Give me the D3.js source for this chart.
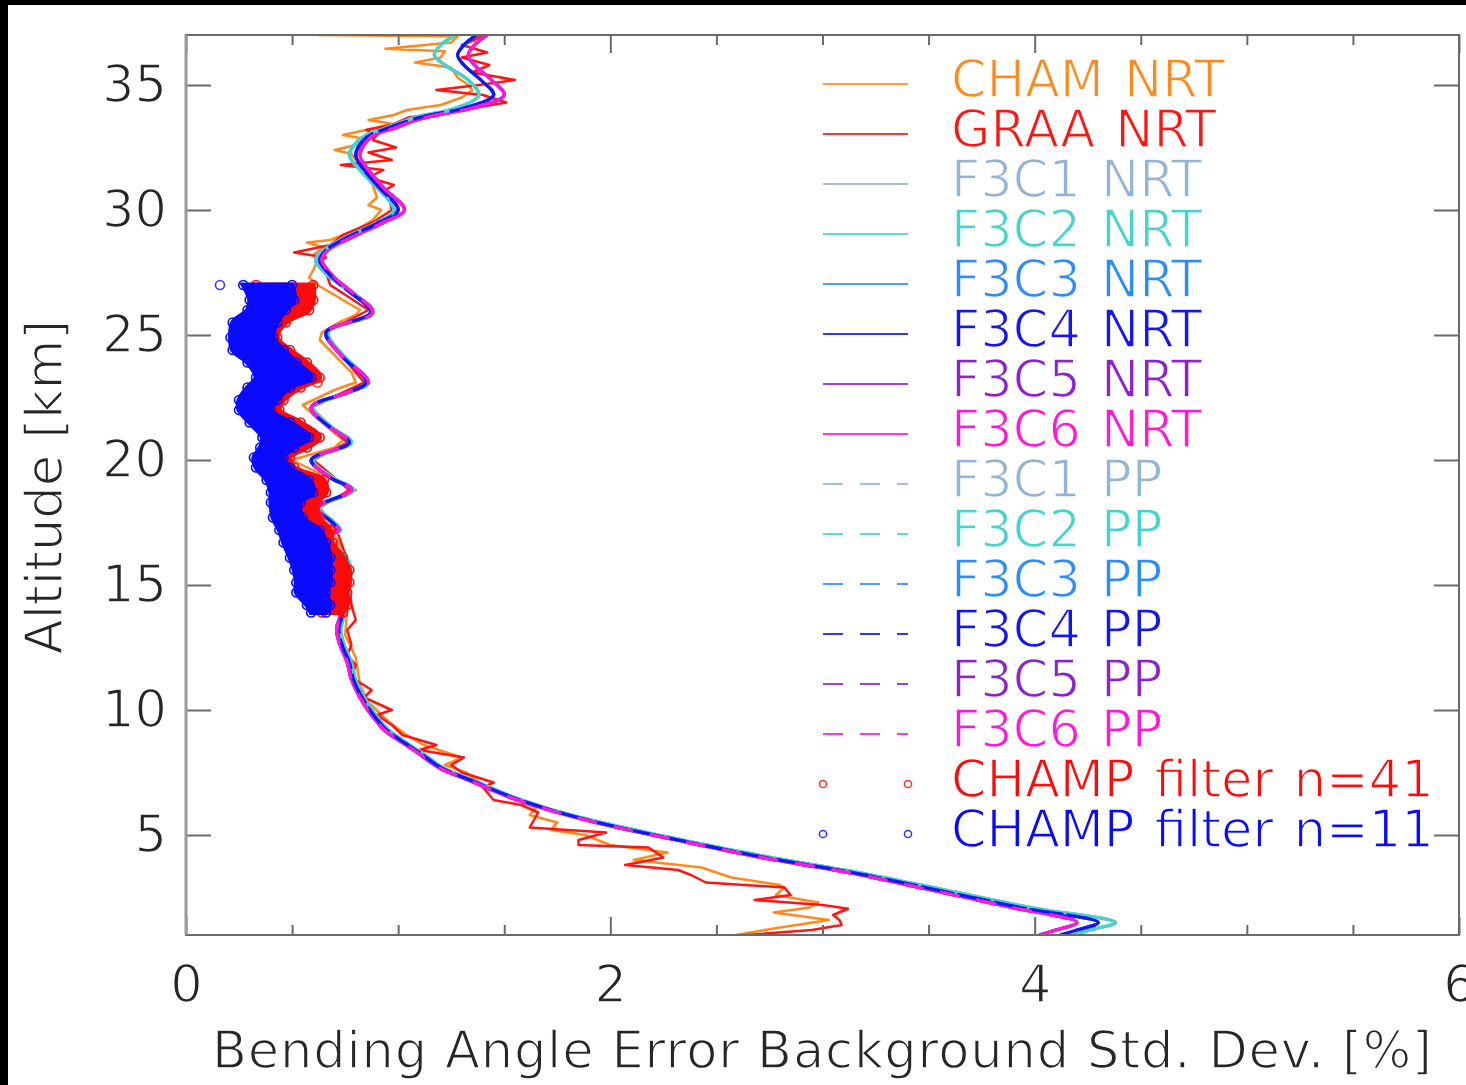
<!DOCTYPE html>
<html><head><meta charset="utf-8">
<script src="https://cdn.jsdelivr.net/npm/d3@7"></script>
<style>
html,body{margin:0;padding:0;background:#fff;}
svg{display:block;}
text{font-family:"DejaVu Sans",sans-serif;stroke:#fff;stroke-width:1.5px;}
</style></head><body>
<svg id="chart" width="1466" height="1085"></svg>
<script>
// ---------------- DATA ----------------
const xMajorTicks = [0, 2, 4, 6];
const xMinorTicks = [0.5, 1, 1.5, 2.5, 3, 3.5, 4.5, 5, 5.5];
const xTickLabels = ["0", "2", "4", "6"];
const yTicks = [5, 10, 15, 20, 25, 30, 35];
const yTickLabels = ["5", "10", "15", "20", "25", "30", "35"];
const xTitle = "Bending Angle Error Background Std. Dev. [%]";
const yTitle = "Altitude [km]";

// CHAM NRT (orange)
const altCHAM = [37.0,36.95,36.7,36.45,36.35,36.1,35.9,35.7,35.3,35.0,34.8,34.5,34.2,34.0,33.8,33.6,33.45,33.3,33.0,32.85,32.6,32.4,32.25,32.0,31.5,31.0,30.5,30.2,30.0,29.6,29.2,28.8,28.7,28.5,28.2,28.0,27.6,27.3,27.0,26.5,26.0,25.8,25.5,25.1,24.8,24.2,23.5,23.1,22.8,22.2,21.5,20.8,20.5,20.0,19.5,18.8,18.3,18.0,17.5,17.0,16.0,15.0,14.0,13.0,12.1,11.0,10.3,9.5,9.0,8.6,8.1,7.8,7.5,7.0,6.5,6.1,5.8,5.5,5.2,5.0,4.6,4.3,4.0,3.7,3.3,3.0,2.9,2.6,2.3,2.1,1.9,1.6,1.3,1.0];
const valCHAM = [0.62,1.28,1.25,0.94,1.22,1.20,1.08,1.25,1.28,1.33,1.35,1.30,1.20,1.04,0.98,0.86,0.97,0.90,0.74,0.84,0.80,0.70,0.78,0.80,0.84,0.88,0.90,0.86,0.92,0.88,0.80,0.68,0.57,0.65,0.60,0.62,0.60,0.58,0.62,0.72,0.82,0.80,0.72,0.64,0.63,0.70,0.78,0.80,0.70,0.55,0.64,0.74,0.70,0.50,0.62,0.80,0.66,0.62,0.68,0.70,0.76,0.77,0.76,0.75,0.80,0.82,0.86,0.96,1.04,1.12,1.30,1.22,1.32,1.40,1.52,1.65,1.62,1.75,1.72,1.88,2.00,2.27,2.11,2.43,2.57,2.80,2.82,2.78,2.98,2.94,2.77,3.03,2.80,2.59];

// GRAA NRT (red)
const altGRAA = [37.0,36.8,36.6,36.3,36.1,35.8,35.5,35.2,35.0,34.8,34.6,34.3,34.0,33.7,33.4,33.2,33.0,32.8,32.5,32.3,32.0,31.8,31.6,31.3,31.0,30.7,30.4,30.0,29.5,29.0,28.6,28.3,28.1,27.9,27.5,27.0,26.0,25.1,24.2,23.1,22.1,20.7,20.0,18.8,18.1,17.2,16.0,15.0,14.2,13.6,13.2,12.6,12.2,11.8,11.3,10.8,10.5,10.0,9.8,9.4,9.0,8.6,8.4,8.1,7.8,7.5,7.1,6.9,6.4,6.2,5.9,5.3,5.1,4.8,4.6,4.5,4.1,3.8,3.6,3.4,3.1,2.9,2.6,2.4,2.2,2.05,1.8,1.6,1.4,1.2,1.0];
const valGRAA = [1.40,1.36,1.30,1.42,1.30,1.43,1.35,1.55,1.38,1.18,1.40,1.51,1.30,1.05,0.97,0.85,0.90,0.88,0.99,0.86,0.97,0.73,0.93,0.86,0.98,0.92,0.96,0.97,0.88,0.74,0.68,0.51,0.66,0.62,0.66,0.68,0.86,0.66,0.73,0.84,0.59,0.76,0.60,0.77,0.63,0.71,0.76,0.77,0.78,0.80,0.76,0.78,0.76,0.80,0.78,0.875,0.84,0.97,0.90,0.97,1.02,1.18,1.10,1.31,1.25,1.30,1.45,1.40,1.45,1.58,1.66,1.62,1.98,1.85,1.85,2.18,2.25,2.07,2.32,2.38,2.45,2.82,2.85,2.68,3.00,3.12,3.05,3.08,3.09,2.95,2.64];

// FORMOSAT-3 / COSMIC profiles (read as three visually distinct groups)
const altF3C = [37.0,36.6,36.2,35.8,35.2,34.6,34.1,33.7,33.3,32.9,32.2,31.6,30.9,30.0,29.5,28.9,28.4,28.0,27.3,26.8,25.9,25.1,24.2,23.1,22.7,22.1,21.3,20.7,20.0,19.3,18.8,18.1,17.5,17.2,16.9,15.9,14.8,13.9,13.2,12.5,11.9,11.2,10.5,9.9,9.2,8.8,8.3,7.7,7.2,6.5,6.0,5.5,4.8,4.1,3.5,2.8,2.1,1.5,1.2,1.0];
const valF3CLight = [1.27,1.20,1.17,1.22,1.33,1.38,1.28,1.08,0.95,0.83,0.77,0.82,0.90,0.98,0.90,0.75,0.65,0.61,0.68,0.76,0.88,0.67,0.74,0.86,0.77,0.60,0.69,0.78,0.60,0.69,0.79,0.63,0.70,0.73,0.68,0.77,0.77,0.75,0.73,0.75,0.78,0.80,0.84,0.885,0.955,1.02,1.11,1.21,1.35,1.55,1.73,1.96,2.34,2.76,3.17,3.58,3.98,4.38,4.26,4.18];
const valF3CBlue  = [1.37,1.31,1.28,1.31,1.39,1.45,1.32,1.10,0.96,0.85,0.80,0.84,0.91,1.00,0.91,0.76,0.66,0.63,0.69,0.76,0.87,0.66,0.73,0.85,0.76,0.59,0.68,0.77,0.59,0.68,0.78,0.62,0.69,0.72,0.67,0.76,0.76,0.74,0.72,0.74,0.77,0.79,0.83,0.875,0.945,1.01,1.10,1.20,1.34,1.54,1.72,1.94,2.32,2.73,3.14,3.54,3.93,4.30,4.20,4.12];
const valF3CPink  = [1.42,1.36,1.33,1.36,1.44,1.50,1.36,1.13,0.99,0.87,0.82,0.86,0.93,1.03,0.93,0.78,0.67,0.64,0.70,0.77,0.88,0.66,0.73,0.86,0.76,0.59,0.68,0.77,0.59,0.68,0.78,0.62,0.69,0.72,0.67,0.75,0.75,0.73,0.71,0.73,0.76,0.78,0.82,0.865,0.935,1.00,1.09,1.19,1.33,1.53,1.71,1.93,2.31,2.71,3.12,3.51,3.89,4.20,4.10,4.02];

// CHAMP filter scatter clouds: extent of the circle clouds per altitude
const altScatter = [27.0,26.4,26.0,25.5,24.9,24.4,23.9,23.3,22.9,22.4,22.0,21.5,20.9,20.5,20.1,19.7,19.2,18.7,18.3,17.7,17.2,16.7,16.1,15.6,15.1,14.7,14.2,13.9];
const blueLo = [0.27,0.30,0.29,0.22,0.21,0.22,0.29,0.33,0.29,0.25,0.25,0.30,0.36,0.35,0.32,0.33,0.38,0.40,0.40,0.41,0.44,0.46,0.49,0.51,0.52,0.52,0.57,0.59];
const blueHi = [0.50,0.51,0.47,0.43,0.41,0.46,0.52,0.59,0.49,0.43,0.40,0.49,0.58,0.51,0.46,0.49,0.58,0.60,0.54,0.55,0.63,0.66,0.68,0.68,0.68,0.66,0.68,0.66];
const redLo  = [0.33,0.36,0.35,0.30,0.28,0.30,0.36,0.42,0.36,0.32,0.31,0.37,0.44,0.42,0.38,0.40,0.46,0.48,0.46,0.47,0.52,0.55,0.58,0.60,0.60,0.60,0.63,0.64];
const redHi  = [0.60,0.60,0.58,0.47,0.43,0.49,0.57,0.63,0.54,0.46,0.44,0.54,0.63,0.57,0.49,0.51,0.65,0.66,0.62,0.63,0.68,0.69,0.74,0.77,0.77,0.76,0.76,0.74];
const blueOutAlt = [27.0];
const blueOutVal = [0.16];
const redOutAlt = [23.1];
const redOutVal = [0.62];

// series definitions
const seriesNames  = ["CHAM NRT","GRAA NRT","F3C1 NRT","F3C2 NRT","F3C3 NRT","F3C4 NRT","F3C5 NRT","F3C6 NRT","F3C1 PP","F3C2 PP","F3C3 PP","F3C4 PP","F3C5 PP","F3C6 PP"];
const seriesColors = ["#ff8a1c","#ff1414","#94b4d6","#44d4cc","#2a8cff","#1414f4","#8c22d0","#ff18d8","#94b4d6","#44d4cc","#2a8cff","#1414f4","#8c22d0","#ff18d8"];
const scatterNames = ["CHAMP filter n=41","CHAMP filter n=11"];
const scatterColors = ["#ff0a0a","#0a0aff"];

// ---------------- CHART ----------------
const W = 1466, H = 1085;
const svg = d3.select("#chart");
svg.append("rect").attr("width", W).attr("height", H).attr("fill", "#fff");
svg.append("rect").attr("x",0).attr("y",0).attr("width",W).attr("height",5).attr("fill","#000");
svg.append("rect").attr("x",0).attr("y",0).attr("width",8).attr("height",H).attr("fill","#000");

const x = d3.scaleLinear().domain([0, 6]).range([186, 1459]);
const y = d3.scaleLinear().domain([1, 37]).range([935, 35]);
const FS = 51;
const axisColor = "#6a6a6a";
const textColor = "#262626";

svg.append("clipPath").attr("id","plotclip").append("rect")
  .attr("x", x(0)).attr("y", y(37)).attr("width", x(6)-x(0)).attr("height", y(1)-y(37));

const plot = svg.append("g").attr("clip-path","url(#plotclip)");

const profileFor = [
  [altCHAM, valCHAM], [altGRAA, valGRAA],
  [altF3C, valF3CLight], [altF3C, valF3CLight], [altF3C, valF3CBlue], [altF3C, valF3CBlue], [altF3C, valF3CPink], [altF3C, valF3CPink],
  [altF3C, valF3CLight], [altF3C, valF3CLight], [altF3C, valF3CBlue], [altF3C, valF3CBlue], [altF3C, valF3CPink], [altF3C, valF3CPink]
];
const series = seriesNames.map((name, i) => ({
  name, color: seriesColors[i],
  pts: d3.zip(profileFor[i][0], profileFor[i][1]),
  dashed: name.endsWith("PP"),
  smooth: name.startsWith("F3C")
}));

series.forEach(s => {
  const gen = d3.line().x(d => x(d[1])).y(d => y(d[0]))
    .curve(s.smooth ? d3.curveCatmullRom.alpha(0.5) : d3.curveLinear);
  plot.append("path").attr("d", gen(s.pts))
    .attr("fill","none").attr("stroke", s.color)
    .attr("stroke-width", s.smooth ? 3.2 : 2.5).attr("stroke-linejoin","round")
    .attr("stroke-dasharray", s.dashed ? "20,17" : null);
});

// scatter clouds
const clouds = [
  {color: scatterColors[0], lo: redLo, hi: redHi, oa: redOutAlt, ov: redOutVal},
  {color: scatterColors[1], lo: blueLo, hi: blueHi, oa: blueOutAlt, ov: blueOutVal}
];
clouds.forEach(c => {
  const pts = altScatter.map((a, i) => ({a, lo: c.lo[i], hi: c.hi[i]}));
  const area = d3.area().y(d => y(d.a)).x0(d => x(d.lo)).x1(d => x(d.hi)).curve(d3.curveCatmullRom.alpha(0.5));
  plot.append("path").attr("d", area(pts)).attr("fill", c.color).attr("stroke", c.color).attr("stroke-width", 5);
  const g = plot.append("g");
  pts.forEach(p => {
    [p.lo, p.hi].forEach(v => {
      g.append("circle").attr("cx", x(v)).attr("cy", y(p.a)).attr("r", 4.5)
        .attr("fill","none").attr("stroke", c.color).attr("stroke-width", 1.6);
    });
  });
  c.oa.forEach((a, i) => {
    g.append("circle").attr("cx", x(c.ov[i])).attr("cy", y(a)).attr("r", 4.5)
      .attr("fill","none").attr("stroke", c.color).attr("stroke-width", 1.6).attr("opacity",0.8);
  });
});

// axes (ticks inward)
function styleAxis(g) {
  g.select(".domain").remove();
  g.selectAll(".tick line").attr("stroke", axisColor).attr("stroke-width", 2);
  g.selectAll("text").attr("fill", textColor).attr("font-size", FS).attr("font-family","DejaVu Sans");
}
svg.append("g").attr("transform",`translate(0,${y(1)})`)
  .call(d3.axisBottom(x).tickValues(xMinorTicks).tickSize(-10).tickFormat("")).call(styleAxis);
svg.append("g").attr("transform",`translate(0,${y(1)})`)
  .call(d3.axisBottom(x).tickValues(xMajorTicks).tickSize(-18).tickPadding(31)
    .tickFormat((d, i) => xTickLabels[i])).call(styleAxis);
svg.append("g").attr("transform",`translate(0,${y(37)})`)
  .call(d3.axisTop(x).tickValues(xMinorTicks).tickSize(-10).tickFormat("")).call(styleAxis);
svg.append("g").attr("transform",`translate(0,${y(37)})`)
  .call(d3.axisTop(x).tickValues(xMajorTicks).tickSize(-18).tickFormat("")).call(styleAxis);
svg.append("g").attr("transform",`translate(${x(0)},0)`)
  .call(d3.axisLeft(y).tickValues(yTicks).tickSize(-25).tickPadding(19)
    .tickFormat((d, i) => yTickLabels[i])).call(styleAxis);
svg.append("g").attr("transform",`translate(${x(6)},0)`)
  .call(d3.axisRight(y).tickValues(yTicks).tickSize(-25).tickFormat("")).call(styleAxis);

// frame
svg.append("rect").attr("x", x(0)).attr("y", y(37)).attr("width", x(6)-x(0)).attr("height", y(1)-y(37))
  .attr("fill","none").attr("stroke", axisColor).attr("stroke-width", 2);
svg.append("line").attr("x1", x(0)).attr("x2", x(0)).attr("y1", y(37)).attr("y2", y(1))
  .attr("stroke","#9a9a9a").attr("stroke-width",3);

// titles
svg.append("text").attr("x", 822).attr("y", 1068)
  .attr("text-anchor","middle").attr("font-size", FS).attr("fill", textColor)
  .attr("textLength", 1220).attr("lengthAdjust","spacing")
  .text(xTitle);
svg.append("text").attr("transform","translate(62,487) rotate(-90)")
  .attr("text-anchor","middle").attr("font-size", FS).attr("fill", textColor)
  .text(yTitle);

// legend
const legend = svg.append("g");
const legX0 = 823, legX1 = 908, legTextX = 951, legY0 = 84, legDY = 50;
const legendItems = series.map(s => ({name: s.name, color: s.color, type: s.dashed ? "dash" : "line"}))
  .concat(scatterNames.map((n, i) => ({name: n, color: scatterColors[i], type: "circle"})));
legendItems.forEach((it, i) => {
  const yy = legY0 + i * legDY;
  if (it.type === "circle") {
    [legX0, legX1].forEach(cx => legend.append("circle").attr("cx", cx).attr("cy", yy).attr("r", 3.6)
      .attr("fill","none").attr("stroke", it.color).attr("stroke-width", 1.5).attr("opacity",0.85));
  } else {
    legend.append("line").attr("x1", legX0).attr("x2", legX1).attr("y1", yy).attr("y2", yy)
      .attr("stroke", it.color).attr("stroke-width", 2.2).attr("opacity",0.85)
      .attr("stroke-dasharray", it.type === "dash" ? "20,17" : null);
  }
  legend.append("text").attr("x", legTextX).attr("y", yy + 13)
    .attr("font-size", FS).attr("fill", it.color)
    .attr("word-spacing", "4px")
    .text(it.name);
});
</script>
</body></html>
